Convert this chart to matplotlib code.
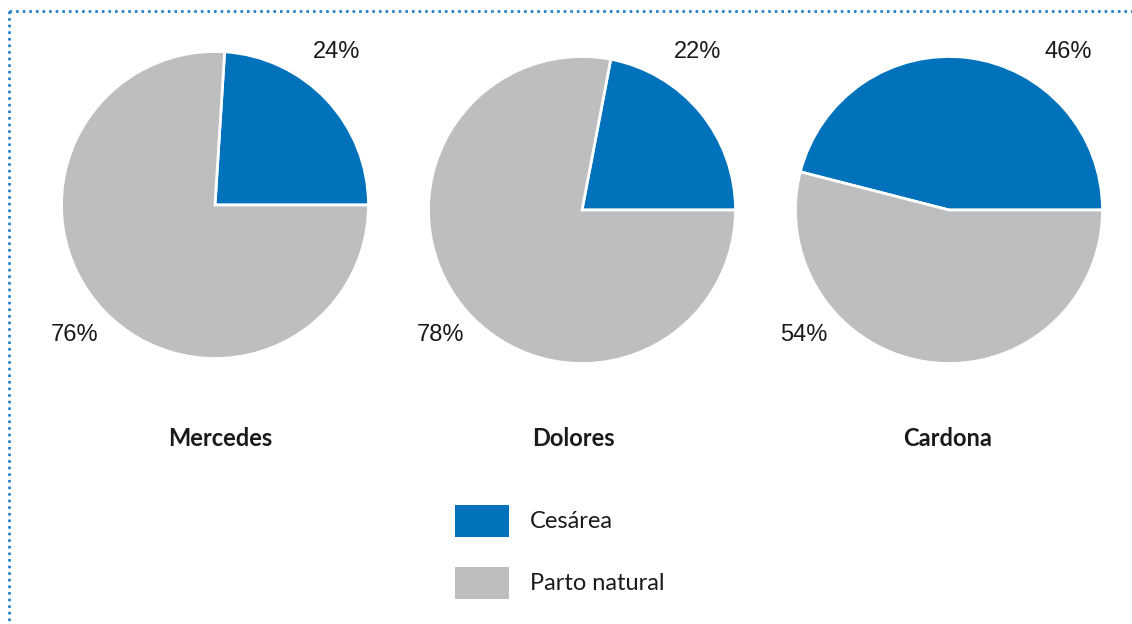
import matplotlib
matplotlib.use("Agg")
import matplotlib.pyplot as plt
from matplotlib.lines import Line2D
from matplotlib.patches import Rectangle

W, H = 1132, 624
regions = ["Mercedes", "Dolores", "Cardona"]
cesarea = [24, 22, 46]
natural = [76, 78, 54]
series_labels = ["Cesárea", "Parto natural"]
colors = ["#0071BB", "#BDBEC0"]

fig = plt.figure(figsize=(W / 100, H / 100), dpi=100)
fig.patch.set_facecolor("white")

def fx(x):
    return x / W

def fy(y):
    return 1 - y / H

# pie layout (pixel centres)
centres = [(215, 205), (582, 210), (949, 210)]
R = 153.5
title_pos = [(220, 438), (573, 438), (948, 438)]
top_lab = [(337, 52), (698, 52), (1068, 52)]
bot_lab = [(75, 335), (440, 335), (804, 335)]

for i, name in enumerate(regions):
    cx, cy = centres[i]
    ax = fig.add_axes([fx(cx - R), fy(cy + R), 2 * R / W, 2 * R / H])
    ax.pie([cesarea[i], natural[i]], colors=colors, startangle=0,
           counterclock=True, radius=1,
           wedgeprops=dict(edgecolor="white", linewidth=2))
    ax.set_xlim(-1.0, 1.0)
    ax.set_ylim(-1.0, 1.0)
    ax.set_aspect("equal")
    ax.axis("off")
    fig.text(fx(top_lab[i][0]), fy(top_lab[i][1]), f"{cesarea[i]}%",
             ha="center", va="center", fontsize=17, family="Liberation Sans",
             color="#1a1a1a")
    fig.text(fx(bot_lab[i][0]), fy(bot_lab[i][1]), f"{natural[i]}%",
             ha="center", va="center", fontsize=17, family="Liberation Sans",
             color="#1a1a1a")
    fig.text(fx(title_pos[i][0]), fy(title_pos[i][1]), name,
             ha="center", va="center", fontsize=17, family="Lato",
             fontweight="bold", color="#1a1a1a")

# legend
leg_y = [521, 583]
for lab, col, y in zip(series_labels, colors, leg_y):
    fig.patches.append(Rectangle((fx(455), fy(y + 16)), 54 / W, 32 / H,
                                 transform=fig.transFigure, facecolor=col,
                                 edgecolor="none"))
    fig.text(fx(530), fy(y), lab, ha="left", va="center", fontsize=17,
             family="Lato", color="#1a1a1a")

# dotted frame
border_col = "#1B7DC6"
fig.lines.append(Line2D([fx(9), 1.0], [fy(11), fy(11)], transform=fig.transFigure,
                        color=border_col, linewidth=1.9, dashes=(1, 1.5),
                        solid_capstyle="butt", dash_capstyle="butt"))
fig.lines.append(Line2D([fx(9), fx(9)], [fy(11), 0.0], transform=fig.transFigure,
                        color=border_col, linewidth=1.9, dashes=(1, 1.5),
                        dash_capstyle="butt"))

fig.savefig("out.png", dpi=100)
